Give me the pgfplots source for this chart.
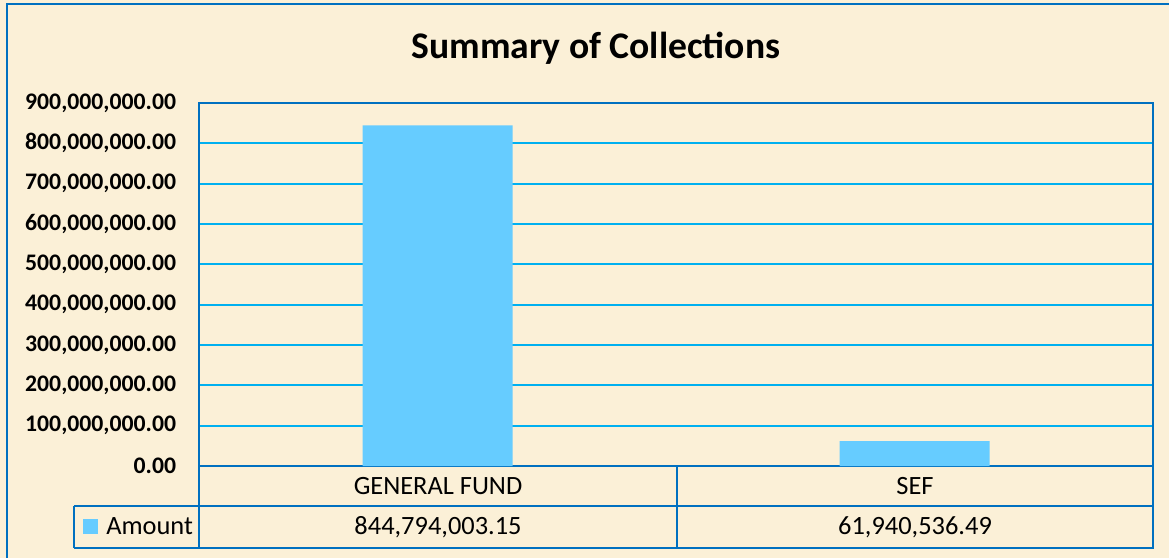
\documentclass[border=0pt]{standalone}
\usepackage{pgfplots}
\pgfplotsset{compat=1.18}
\usepackage{fontspec}
\setmainfont{Carlito}
\definecolor{bg}{HTML}{FBF0D7}
\definecolor{bord}{HTML}{0070C0}
\definecolor{gridc}{HTML}{00B0F0}
\definecolor{barc}{HTML}{66CCFF}
\begin{document}
\begin{tikzpicture}[x=0.75pt,y=-0.75pt]
\useasboundingbox (0,0) rectangle (1169,557);
\fill[bg] (-5,-5) rectangle (1175,565);
\draw[bord, line width=1.5pt] (7,565) -- (7,4) -- (1175,4);
\node[font=\fontsize{28.2}{30}\bfseries\selectfont, anchor=base, inner sep=0pt] at (596,58) {Summary of Collections};
\begin{axis}[
  at={(149.25pt,-349.5pt)}, anchor=south west,
  width=715.5pt, height=272.25pt, scale only axis,
  xmin=0, xmax=2, ymin=0, ymax=900000000,
  scaled y ticks=false,
  xtick=\empty,
  ytick={0,100000000,200000000,300000000,400000000,500000000,600000000,700000000,800000000,900000000},
  yticklabels={{0.00},{100,000,000.00},{200,000,000.00},{300,000,000.00},{400,000,000.00},{500,000,000.00},{600,000,000.00},{700,000,000.00},{800,000,000.00},{900,000,000.00}},
  yticklabel style={font=\fontsize{17.8}{20}\bfseries\selectfont, anchor=east, inner sep=0pt, xshift=-17pt},
  major tick length=0pt,
  ymajorgrids,
  grid style={gridc, line width=1.5pt},
  axis line style={bord, line width=1.5pt},
  ybar, bar width=112.5pt,
]
\addplot[fill=barc, draw=none] coordinates {(0.5,844794003.15) (1.5,61940536.49)};
\end{axis}
% data table
\draw[bord, line width=1.5pt] (74,506) -- (1154,506);
\draw[bord, line width=1.5pt] (74,547.5) -- (1154,547.5);
\draw[bord, line width=1.5pt] (74,506) -- (74,547.5);
\draw[bord, line width=1.5pt] (199,466) -- (199,547.5);
\draw[bord, line width=1.5pt] (677,466) -- (677,547.5);
\draw[bord, line width=1.5pt] (1153,466) -- (1153,547.5);
\begin{scope}[every node/.style={font=\fontsize{19.8}{22}\selectfont, anchor=base, inner sep=0pt}]
\node at (438,494) {GENERAL FUND};
\node at (915,494) {SEF};
\node at (438,534) {844,794,003.15};
\node at (915,534) {61,940,536.49};
\node[anchor=base west] at (106,534) {Amount};
\end{scope}
\fill[barc] (83,519) rectangle (98,534);
\end{tikzpicture}
\end{document}
